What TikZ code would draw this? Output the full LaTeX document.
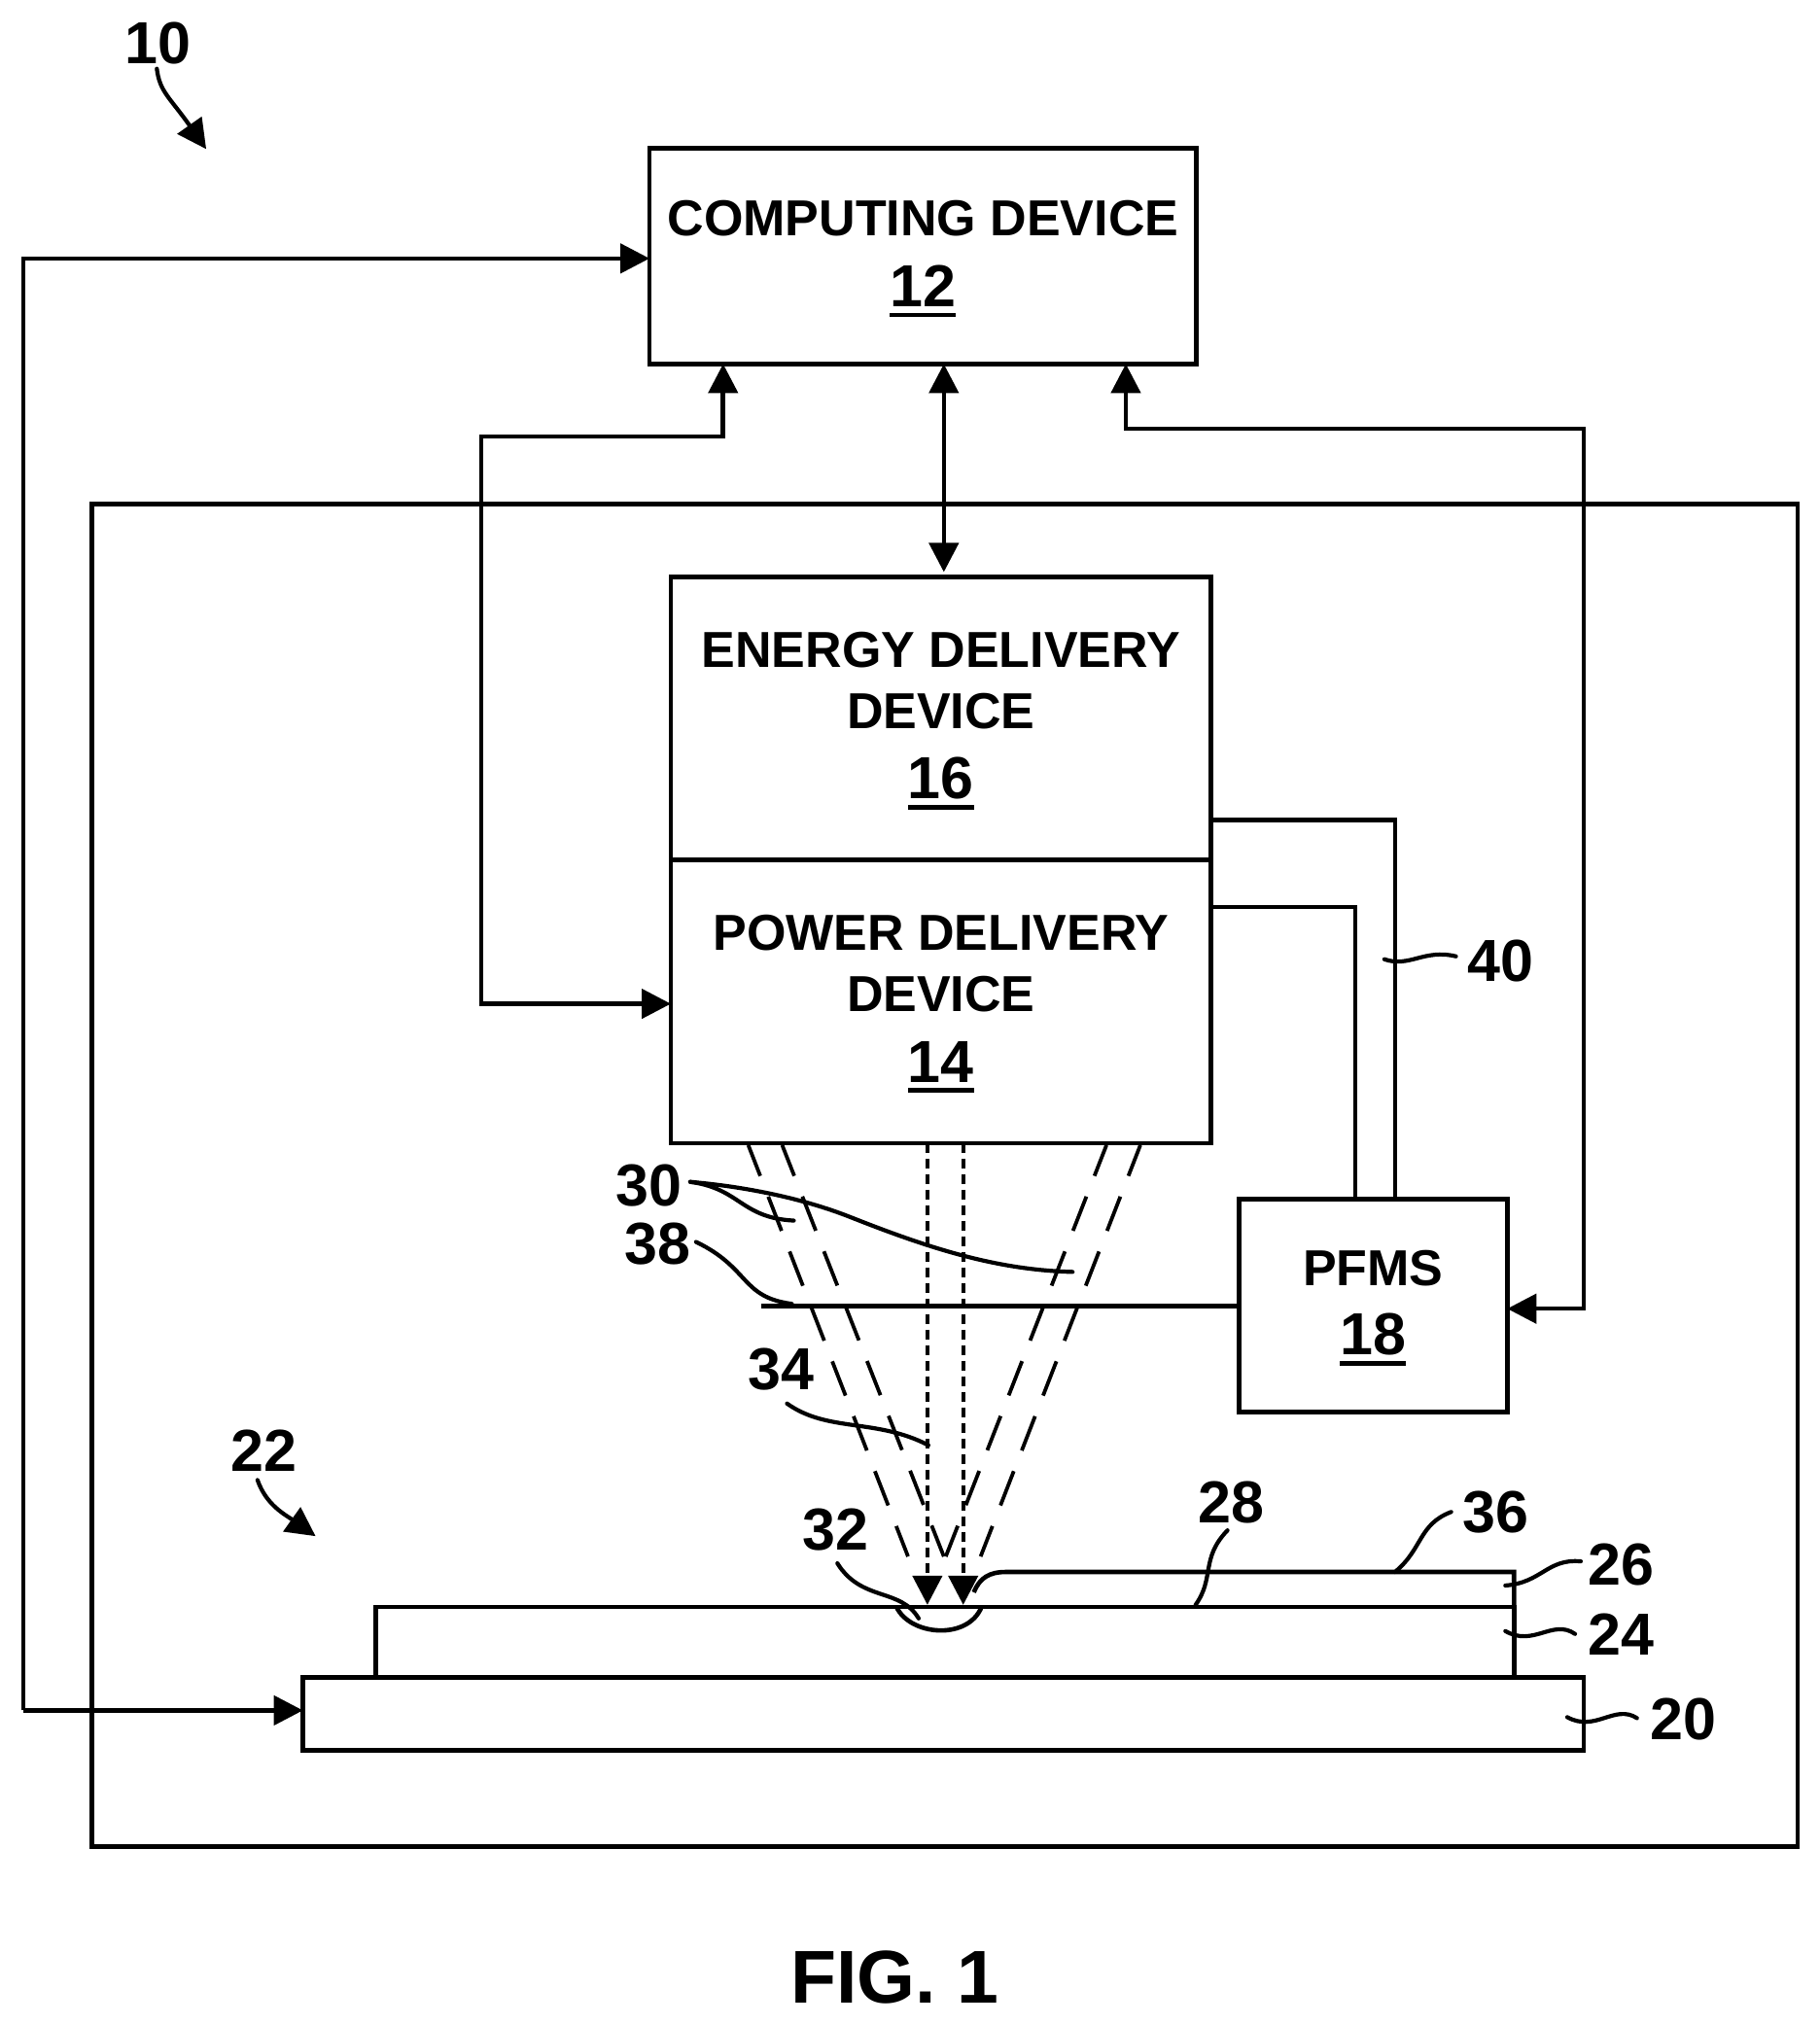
\documentclass[tikz,border=0pt]{standalone}
\usepackage{fontspec}
\setmainfont{Liberation Sans}
\usetikzlibrary{arrows.meta}
\newcommand{\boxfont}{\fontsize{26}{31.5}\selectfont\bfseries}
\newcommand{\numfont}{\fontsize{30.5}{36}\selectfont\bfseries}
\newcommand{\ulnum}[1]{\setbox0\hbox{\numfont #1}\hbox{\rlap{\vrule width\wd0 height -3.2pt depth 5.4pt}\box0}}
\newcommand{\topfix}[1]{\rule{0pt}{#1}}
\tikzset{
  x=0.49785pt,y=-0.49785pt,
  box/.style={draw=black,line width=2.3pt,inner sep=0pt,outer sep=0pt,align=center,font=\boxfont},
  ref/.style={inner sep=0pt,font=\numfont},
  wire/.style={draw=black,line width=2.3pt,line join=miter},
  arrowone/.style={wire,-{Triangle[length=15pt,width=15pt]}},
  arrowtwo/.style={wire,{Triangle[length=15pt,width=15pt]}-{Triangle[length=15pt,width=15pt]}},
  lead/.style={draw=black,line width=2.1pt,line cap=round},
  beam/.style={draw=black,line width=1.9pt,dash pattern=on 18.9pt off 11.4pt,dash phase=1.9pt},
  probe/.style={draw=black,line width=2.2pt,dash pattern=on 5pt off 3pt,-{Triangle[length=15pt,width=15pt]}},
}
\begin{document}
\begin{tikzpicture}
\path[fill=white,use as bounding box] (0,0) rectangle (1880.08,2091);

% boxes
\node[box,minimum width=877.2pt,minimum height=690.5pt] (frame) at (976,1214.5) {};
\node[box,minimum width=281.3pt,minimum height=111pt] (comp) at (953.5,264.5) {\topfix{21pt}COMPUTING DEVICE\\[5pt]\ulnum{12}};
\node[box,minimum width=277.8pt,minimum height=145.4pt] (energy) at (972,742) {\topfix{20.7pt}ENERGY DELIVERY\\DEVICE\\[4.7pt]\ulnum{16}};
\node[box,minimum width=277.8pt,minimum height=145.9pt] (power) at (972,1034.5) {\topfix{20.7pt}POWER DELIVERY\\DEVICE\\[4.7pt]\ulnum{14}};
\node[box,minimum width=137.9pt,minimum height=109.5pt] (pfms) at (1418.5,1349) {\topfix{20.3pt}PFMS\\[4.3pt]\ulnum{18}};
\node[box,minimum width=658.7pt,minimum height=37.3pt] (plat) at (974.5,1770.5) {};
\node[box,minimum width=585.5pt,minimum height=36.3pt] (sub) at (976,1696.5) {};

% routing coordinates
\coordinate (fbx) at (24,0);
\coordinate (cfy) at (0,267);
\coordinate (pfy) at (0,1767);
\coordinate (lxa) at (747,0);
\coordinate (lxb) at (497,451);
\coordinate (pwy) at (0,1037);
\coordinate (cxa) at (975,0);
\coordinate (cxb) at (975,591);
\coordinate (rxa) at (1163,0);
\coordinate (rxb) at (1636,443);
\coordinate (pmy) at (0,1352);
\coordinate (ey) at (0,847);
\coordinate (py) at (0,937);
\coordinate (ex) at (1441,0);
\coordinate (px) at (1400,0);

% connectors
\draw[arrowone] (fbx |- pfy) -- (plat.west |- pfy);
\draw[arrowone] (fbx |- pfy) -- (fbx |- cfy) -- (comp.west |- cfy);
\draw[arrowtwo] (comp.south -| lxa) -- (lxa |- lxb) -- (lxb) -- (lxb |- pwy) -- (power.west |- pwy);
\draw[arrowtwo] (comp.south -| cxa) -- (cxb);
\draw[arrowtwo] (comp.south -| rxa) -- (rxa |- rxb) -- (rxb) -- (rxb |- pmy) -- (pfms.east |- pmy);
\draw[wire] (energy.east |- ey) -- (ex |- ey) -- (ex |- pfms.north);
\draw[wire] (power.east |- py) -- (px |- py) -- (px |- pfms.north);

% plate line
\coordinate (plateend) at (786,0);
\draw[wire] (pfms.west) -- (plateend |- pfms.west);

% beams
\coordinate (bla) at (773,1183); \coordinate (blb) at (938,1608);
\coordinate (bma) at (808,1183); \coordinate (bmb) at (975,1608);
\coordinate (bna) at (1143,1183); \coordinate (bnb) at (977,1608);
\coordinate (boa) at (1178,1183); \coordinate (bob) at (1013,1608);
\draw[beam] (bla) -- (blb);
\draw[beam] (bma) -- (bmb);
\draw[beam] (bna) -- (bnb);
\draw[beam] (boa) -- (bob);

% probes
\coordinate (pa) at (958,1658);
\coordinate (pb) at (995,1658);
\draw[probe] (power.south -| pa) -- (pa);
\draw[probe] (power.south -| pb) -- (pb);

% workpiece
\coordinate (cra) at (926,1660);
\coordinate (crb) at (1014,1660);
\coordinate (lya) at (1006,1645);
\coordinate (lyb) at (1039,1624);
\coordinate (lyc) at (1564,1624);
\draw[wire] (cra) .. controls (940,1690) and (1000,1695) .. (crb);
\draw[wire] (lya) .. controls (1012,1630) and (1022,1624) .. (lyb) -- (lyc) -- (sub.north east);

% labels
\node[ref] (n10) at (163,45) {10};
\node[ref] (n22) at (273,1499) {22};
\node[ref] (n30) at (670,1225) {30};
\node[ref] (n38) at (679,1285) {38};
\node[ref] (n34) at (807,1415) {34};
\node[ref] (n32) at (863,1580) {32};
\node[ref] (n28) at (1272,1552) {28};
\node[ref] (n36) at (1545,1562) {36};
\node[ref] (n26) at (1675,1616) {26};
\node[ref] (n24) at (1675,1688) {24};
\node[ref] (n20) at (1739,1776) {20};
\node[ref] (n40) at (1550,993) {40};
\node[inner sep=0pt,font=\fontsize{38.5}{46}\selectfont\bfseries] (fig) at (924,2043) {FIG. 1};

% leaders
\draw[lead,-{Triangle[length=15pt,width=15pt]}] (162,71) .. controls (165,95) and (175,100) .. (213,154);
\draw[lead,-{Triangle[length=15pt,width=15pt]}] (266,1529) .. controls (275,1555) and (295,1565) .. (326,1587);
\draw[lead] (713,1221) .. controls (770,1226) and (830,1238) .. (880,1258) .. controls (961,1290) and (1030,1312) .. (1108,1314);
\draw[lead] (713,1221) .. controls (765,1228) and (765,1258) .. (820,1261);
\draw[lead] (719,1283) .. controls (775,1310) and (765,1340) .. (818,1347);
\draw[lead] (813,1450) .. controls (855,1480) and (905,1465) .. (959,1493);
\draw[lead] (865,1615) .. controls (890,1655) and (930,1640) .. (949,1672);
\draw[lead] (1268,1581) .. controls (1240,1610) and (1255,1630) .. (1235,1658);
\draw[lead] (1499,1562) .. controls (1465,1575) and (1470,1600) .. (1441,1624);
\draw[lead] (1633,1613) .. controls (1598,1610) and (1593,1635) .. (1555,1638);
\draw[lead] (1627,1688) .. controls (1604,1672) and (1584,1702) .. (1555,1685);
\draw[lead] (1691,1775) .. controls (1668,1760) and (1648,1790) .. (1619,1774);
\draw[lead] (1430,991) .. controls (1456,1000) and (1471,980) .. (1504,988);
\end{tikzpicture}
\end{document}
